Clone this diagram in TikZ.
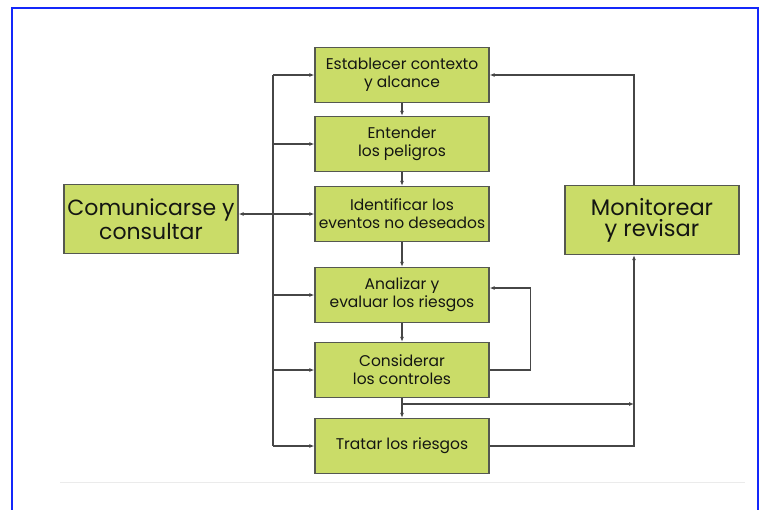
\documentclass[tikz,border=0pt]{standalone}
\usepackage{fontspec}
\setmainfont{Poppins}
\usetikzlibrary{arrows.meta}

\begin{document}
\begin{tikzpicture}[x=1pt,y=-1pt,
  paso/.style={draw=boxline, fill=boxgreen, line width=1.3pt,
    minimum width=174pt, minimum height=55pt, inner sep=0pt,
    align=center, text=boxtext, font=\fontsize{15.5}{18}\selectfont},
  lado/.style={paso, minimum height=69pt, font=\fontsize{22}{24}\selectfont},
  linea/.style={draw=flowline, line width=1.1pt},
  flecha/.style={linea, -{Latex[length=5pt,width=4pt]}}]

\definecolor{boxgreen}{RGB}{202,220,104}
\definecolor{boxline}{RGB}{85,88,80}
\definecolor{boxtext}{RGB}{20,22,18}
\definecolor{flowline}{RGB}{70,70,70}
\definecolor{frameblue}{RGB}{20,40,250}

\useasboundingbox (0,0) rectangle (763,509);

% frame
\draw[frameblue, line width=2pt] (12,520) -- (12,8) -- (758,8) -- (758,520);
\draw[black!8, line width=1pt] (60,482) -- (745,482);

% steps
\node[paso] (est) at (402,75)  {Establecer contexto\\y alcance};
\node[paso] (ent) at (402,144) {Entender\\los peligros};
\node[paso] (ide) at (402,214) {Identificar los\\eventos no deseados};
\node[paso] (ana) at (402,295) {Analizar y\\evaluar los riesgos};
\node[paso] (con) at (402,370) {Considerar\\los controles};
\node[paso] (tra) at (402,446) {Tratar los riesgos};

\node[lado] (com) at (151,219) {Comunicarse y\\consultar};
\node[lado, font=\fontsize{22.5}{21}\selectfont] (mon) at (652,220) {Monitorear\\y revisar};

% main chain
\draw[flecha] (est) -- (ent);
\draw[flecha] (ent) -- (ide);
\draw[flecha] (ide) -- (ana);
\draw[flecha] (ana) -- (con);
\draw[flecha] (con) -- (tra);

% left bus
\coordinate (bus) at (273,0);
\draw[linea] (bus |- est.west) -- (bus |- tra.west);
\draw[flecha] (bus |- est.west) -- (est.west);
\draw[flecha] (bus |- ent.west) -- (ent.west);
\draw[flecha] (bus |- ana.west) -- (ana.west);
\draw[flecha] (bus |- con.west) -- (con.west);
\draw[flecha] (bus |- tra.west) -- (tra.west);
\draw[flecha, {Latex[length=5pt,width=4pt]}-{Latex[length=5pt,width=4pt]}]
  (com.east |- ide.west) -- (ide.west);

% loop
\draw[flecha] (con.east) -- ++(41,0) |- ([yshift=7pt]ana.east);

% right side
\coordinate (mx) at (634,0);
\coordinate (cg) at (402,404);
\draw[flecha] (cg) -- (cg -| mx);
\draw[flecha] (tra.east) -| (mx |- mon.south);
\draw[flecha] (mx |- mon.north) |- (est.east);

\end{tikzpicture}
\end{document}
